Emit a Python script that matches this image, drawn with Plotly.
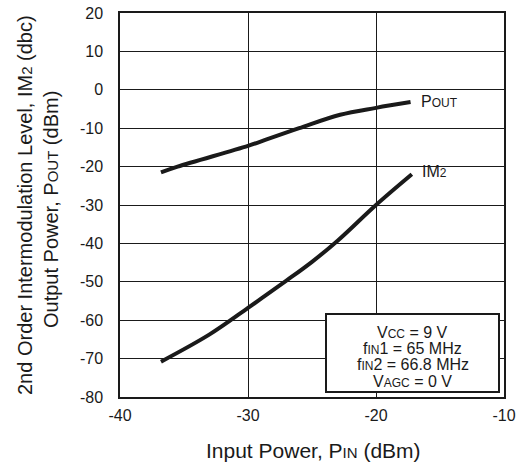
import plotly.graph_objects as go

# Data
pin_pout = [-36.8, -35.5, -30.0, -28.6, -26.0, -22.8, -20.0, -17.3]
pout = [-21.5, -20.0, -14.6, -13.0, -10.0, -6.5, -4.7, -3.2]

pin_im2 = [-36.8, -33.0, -30.0, -27.0, -25.0, -23.0, -20.0, -17.2]
im2 = [-70.8, -63.7, -56.8, -49.7, -44.8, -39.3, -30.0, -22.0]

x_ticks = [-40, -30, -20, -10]
y_ticks = [20, 10, 0, -10, -20, -30, -40, -50, -60, -70, -80]

box_lines = ["V<span style='font-size:12px'>CC</span> = 9 V",
             "f<span style='font-size:12px'>IN</span>1 = 65 MHz",
             "f<span style='font-size:12px'>IN</span>2 = 66.8 MHz",
             "V<span style='font-size:12px'>AGC</span> = 0 V"]

FONT = "Liberation Sans, Arial, sans-serif"
INK = "#1a1a1a"

W, H = 519, 470
ML, MR, MT, MB = 120, 15, 13, 73
PW, PH = W - ML - MR, H - MT - MB  # 384 x 384 plot area -> x 120..504, y 13..397


def px(xw):
    return (xw - ML) / PW


def py(yw):
    return (MT + PH - yw) / PH


fig = go.Figure()
fig.add_trace(go.Scatter(x=pin_pout, y=pout, mode="lines",
                         line=dict(color=INK, width=4, shape="spline", smoothing=1.0),
                         showlegend=False, hoverinfo="skip"))
fig.add_trace(go.Scatter(x=pin_im2, y=im2, mode="lines",
                         line=dict(color=INK, width=4, shape="spline", smoothing=1.0),
                         showlegend=False, hoverinfo="skip"))

# curve labels
fig.add_annotation(x=pin_pout[-1], y=pout[-1], xref="x", yref="y",
                   text="P<span style='font-size:12px'>OUT</span>", showarrow=False,
                   xanchor="left", xshift=8, yshift=1, font=dict(size=16, color=INK))
fig.add_annotation(x=pin_im2[-1], y=im2[-1], xref="x", yref="y",
                   text="IM<span style='font-size:12px'>2</span>", showarrow=False,
                   xanchor="left", xshift=8, yshift=3, font=dict(size=16, color=INK))

# conditions box
fig.add_shape(type="rect", xref="paper", yref="paper",
              x0=px(326), x1=px(499), y0=py(392), y1=py(314),
              line=dict(color=INK, width=2), fillcolor="white", layer="above")
for i, t in enumerate(box_lines):
    fig.add_annotation(x=px(412.5), y=py(332 + 16.4 * i),
                       xref="paper", yref="paper", text=t, showarrow=False,
                       xanchor="center", yanchor="middle",
                       font=dict(size=16, color=INK, family=FONT))

# axis titles
fig.add_annotation(x=px(25), y=py(205), xref="paper", yref="paper",
                   text="2nd Order Intermodulation Level, IM<span style='font-size:15px'>2</span> (dbc)",
                   textangle=-90, showarrow=False, xanchor="center", yanchor="middle",
                   font=dict(size=20, color=INK, family=FONT))
fig.add_annotation(x=px(51), y=py(210), xref="paper", yref="paper",
                   text="Output Power, P<span style='font-size:15px'>OUT</span> (dBm)",
                   textangle=-90, showarrow=False, xanchor="center", yanchor="middle",
                   font=dict(size=20, color=INK, family=FONT))
fig.add_annotation(x=px(313), y=py(450), xref="paper", yref="paper",
                   text="Input Power, P<span style='font-size:15px'>IN</span> (dBm)",
                   showarrow=False, xanchor="center", yanchor="middle",
                   font=dict(size=21, color=INK, family=FONT))

fig.update_xaxes(range=[-40, -10], tickvals=x_ticks, ticktext=[str(v) for v in x_ticks],
                 showgrid=True, gridcolor=INK, gridwidth=1,
                 showline=True, linecolor=INK, linewidth=1.5, mirror=True,
                 zeroline=False, ticks="", ticklabelstandoff=3, automargin=False,
                 ticklabeloverflow="allow",
                 tickfont=dict(size=16, color=INK, family=FONT))
fig.update_yaxes(range=[-80, 20], tickvals=y_ticks, ticktext=[str(v) for v in y_ticks],
                 showgrid=True, gridcolor=INK, gridwidth=1,
                 showline=True, linecolor=INK, linewidth=1.5, mirror=True,
                 zeroline=False, ticks="", ticklabelstandoff=12, automargin=False,
                 ticklabeloverflow="allow",
                 tickfont=dict(size=16, color=INK, family=FONT))

fig.update_layout(width=W, height=H, margin=dict(l=ML, r=MR, t=MT, b=MB),
                  paper_bgcolor="white", plot_bgcolor="white",
                  font=dict(family=FONT, color=INK))

# remove the browser's default 8px page margin so the figure fills the window exactly
fig.write_html("out.html", config={"displayModeBar": False},
               post_script="document.body.style.margin='0';")
